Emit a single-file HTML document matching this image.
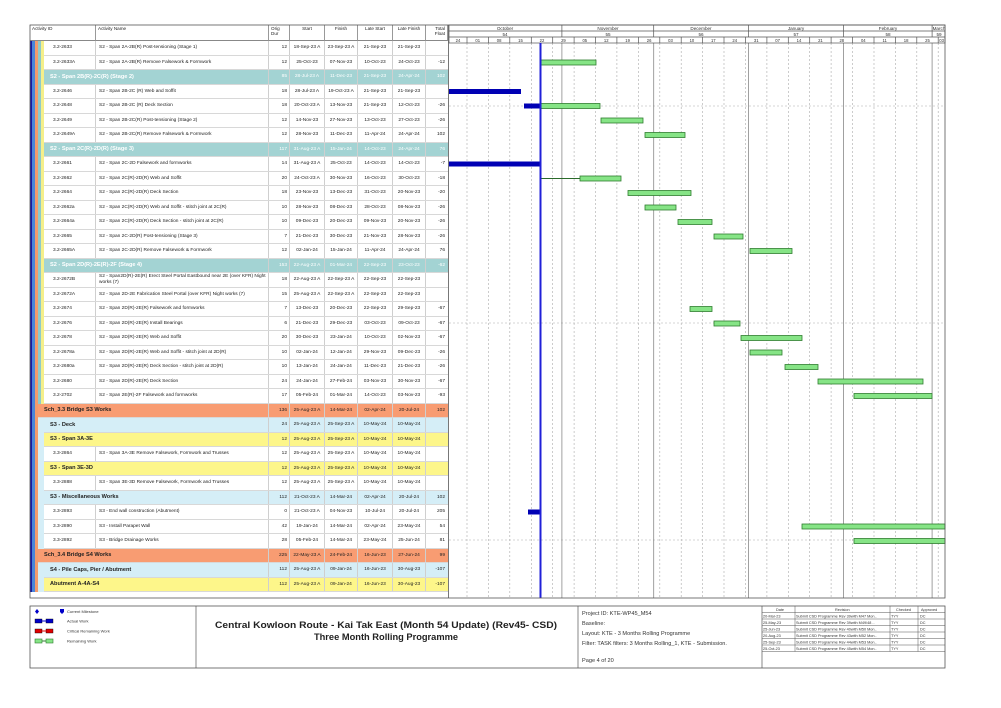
<!DOCTYPE html>
<html><head><meta charset="utf-8">
<style>
*{margin:0;padding:0;box-sizing:border-box}
body{width:1001px;height:708px;background:#fff;position:relative;overflow:hidden;font-family:"Liberation Sans",sans-serif;color:#222}
.r{position:absolute;left:44px;width:404px;height:14.5px;display:flex;align-items:center;border-bottom:1px solid #d8d8d8;font-size:4.8px;background:#fff;white-space:nowrap}
.r>div{height:100%;display:flex;align-items:center;border-right:1px solid #cfcfcf;overflow:hidden}
.a{width:52px;padding-left:9px}.b{width:173px;padding-left:3px}
.d{width:21px;justify-content:flex-end;padding-right:2px}.s{width:35px;justify-content:center}.f{width:33px;justify-content:center}
.t{width:22px;justify-content:flex-end;padding-right:3px;border-right:none!important}
.g .n{width:225px;padding-left:6px;font-weight:bold;font-size:5.6px}
.tl{background:#a3d3d3;color:#fff}.tl .n{color:#fff}
.or{background:#f89c72}.lb{background:#d5eef7}.yl{background:#fdf68a}
.hd{position:absolute;top:25px;height:16px;border-right:1px solid #999;border-bottom:1px solid #888;font-size:4.6px;padding:1px 2px;background:#fff}
.lg{position:absolute;font-size:4.5px}
.pi{position:absolute;left:582px;font-size:6px;color:#333}
</style></head><body>
<!-- stripes -->
<div style="position:absolute;left:30px;top:41px;width:2px;height:551px;background:#1a1aa0"></div>
<div style="position:absolute;left:32px;top:41px;width:3px;height:551px;background:#4a86d8"></div>
<div style="position:absolute;left:35px;top:41px;width:3px;height:551px;background:#f49a6c"></div>
<div style="position:absolute;left:38px;top:41px;width:3px;height:370px;background:#8fcaca"></div>
<div style="position:absolute;left:41px;top:41px;width:3px;height:370px;background:#f5ef8a"></div>
<div style="position:absolute;left:38px;top:411px;width:6px;height:145px;background:#d5eef7"></div>
<div style="position:absolute;left:38px;top:556px;width:6px;height:36px;background:#d5eef7"></div>

<!-- headers -->
<div class="hd" style="left:30px;width:66px">Activity ID</div>
<div class="hd" style="left:96px;width:173px">Activity Name</div>
<div class="hd" style="left:269px;width:21px">Orig Dur</div>
<div class="hd" style="left:290px;width:35px;text-align:center">Start</div>
<div class="hd" style="left:325px;width:33px;text-align:center">Finish</div>
<div class="hd" style="left:358px;width:35px;text-align:center">Late Start</div>
<div class="hd" style="left:393px;width:33px;text-align:center">Late Finish</div>
<div class="hd" style="left:426px;width:22px;text-align:right">Total Float</div>

<div class="r" style="top:41px"><div class="a">3.2-2633</div><div class="b">S2 - Span 2A-2B(R) Post-tensioning (Stage 1)</div><div class="d">12</div><div class="s">18-Sep-23 A</div><div class="f">23-Sep-23 A</div><div class="s">21-Sep-23</div><div class="f">21-Sep-23</div><div class="t"></div></div>
<div class="r" style="top:55.5px"><div class="a">3.2-2633A</div><div class="b">S2 - Span 2A-2B(R) Remove Falsework &amp; Formwork</div><div class="d">12</div><div class="s">25-Oct-23</div><div class="f">07-Nov-23</div><div class="s">10-Oct-23</div><div class="f">24-Oct-23</div><div class="t">-12</div></div>
<div class="r g tl" style="top:70px"><div class="n">S2 - Span 2B(R)-2C(R) (Stage 2)</div><div class="d">85</div><div class="s">28-Jul-23 A</div><div class="f">11-Dec-23</div><div class="s">21-Sep-23</div><div class="f">24-Apr-24</div><div class="t">102</div></div>
<div class="r" style="top:84.5px"><div class="a">3.2-2646</div><div class="b">S2 - Span 2B-2C (R) Web and Soffit</div><div class="d">18</div><div class="s">28-Jul-23 A</div><div class="f">19-Oct-23 A</div><div class="s">21-Sep-23</div><div class="f">21-Sep-23</div><div class="t"></div></div>
<div class="r" style="top:99px"><div class="a">3.2-2648</div><div class="b">S2 - Span 2B-2C (R) Deck Section</div><div class="d">18</div><div class="s">20-Oct-23 A</div><div class="f">13-Nov-23</div><div class="s">21-Sep-23</div><div class="f">12-Oct-23</div><div class="t">-26</div></div>
<div class="r" style="top:113.5px"><div class="a">3.2-2649</div><div class="b">S2 - Span 2B-2C(R) Post-tensioning (Stage 2)</div><div class="d">12</div><div class="s">14-Nov-23</div><div class="f">27-Nov-23</div><div class="s">13-Oct-23</div><div class="f">27-Oct-23</div><div class="t">-26</div></div>
<div class="r" style="top:128px"><div class="a">3.2-2649A</div><div class="b">S2 - Span 2B-2C(R) Remove Falsework &amp; Formwork</div><div class="d">12</div><div class="s">28-Nov-23</div><div class="f">11-Dec-23</div><div class="s">11-Apr-24</div><div class="f">24-Apr-24</div><div class="t">102</div></div>
<div class="r g tl" style="top:142.5px"><div class="n">S2 - Span 2C(R)-2D(R) (Stage 3)</div><div class="d">117</div><div class="s">31-Aug-23 A</div><div class="f">15-Jan-24</div><div class="s">14-Oct-23</div><div class="f">24-Apr-24</div><div class="t">76</div></div>
<div class="r" style="top:157px"><div class="a">3.2-2661</div><div class="b">S2 - Span 2C-2D Falsework and formworks</div><div class="d">14</div><div class="s">31-Aug-23 A</div><div class="f">25-Oct-23</div><div class="s">14-Oct-23</div><div class="f">14-Oct-23</div><div class="t">-7</div></div>
<div class="r" style="top:171.5px"><div class="a">3.2-2662</div><div class="b">S2 - Span 2C(R)-2D(R) Web and Soffit</div><div class="d">20</div><div class="s">24-Oct-23 A</div><div class="f">30-Nov-23</div><div class="s">16-Oct-23</div><div class="f">30-Oct-23</div><div class="t">-18</div></div>
<div class="r" style="top:186px"><div class="a">3.2-2664</div><div class="b">S2 - Span 2C(R)-2D(R) Deck Section</div><div class="d">18</div><div class="s">23-Nov-23</div><div class="f">13-Dec-23</div><div class="s">31-Oct-23</div><div class="f">20-Nov-23</div><div class="t">-20</div></div>
<div class="r" style="top:200.5px"><div class="a">3.2-2662a</div><div class="b">S2 - Span 2C(R)-2D(R) Web and Soffit - stitch joint at 2C(R)</div><div class="d">10</div><div class="s">28-Nov-23</div><div class="f">08-Dec-23</div><div class="s">28-Oct-23</div><div class="f">08-Nov-23</div><div class="t">-26</div></div>
<div class="r" style="top:215px"><div class="a">3.2-2664a</div><div class="b">S2 - Span 2C(R)-2D(R) Deck Section - stitch joint at 2C(R)</div><div class="d">10</div><div class="s">09-Dec-23</div><div class="f">20-Dec-23</div><div class="s">09-Nov-23</div><div class="f">20-Nov-23</div><div class="t">-26</div></div>
<div class="r" style="top:229.5px"><div class="a">3.2-2665</div><div class="b">S2 - Span 2C-2D(R) Post-tensioning (Stage 3)</div><div class="d">7</div><div class="s">21-Dec-23</div><div class="f">30-Dec-23</div><div class="s">21-Nov-23</div><div class="f">28-Nov-23</div><div class="t">-26</div></div>
<div class="r" style="top:244px"><div class="a">3.2-2665A</div><div class="b">S2 - Span 2C-2D(R) Remove Falsework &amp; Formwork</div><div class="d">12</div><div class="s">02-Jan-24</div><div class="f">15-Jan-24</div><div class="s">11-Apr-24</div><div class="f">24-Apr-24</div><div class="t">76</div></div>
<div class="r g tl" style="top:258.5px"><div class="n">S2 - Span 2D(R)-2E(R)-2F (Stage 4)</div><div class="d">153</div><div class="s">22-Aug-23 A</div><div class="f">01-Mar-24</div><div class="s">22-Sep-23</div><div class="f">23-Oct-23</div><div class="t">-62</div></div>
<div class="r" style="top:273px"><div class="a">3.2-2672B</div><div class="b" style="white-space:normal;line-height:5.4px">S2 - Span2D(R)-2E(R) Erect Steel Portal Eastbound near 2E (over KFR) Night works (7)</div><div class="d">18</div><div class="s">22-Aug-23 A</div><div class="f">22-Sep-23 A</div><div class="s">22-Sep-23</div><div class="f">22-Sep-23</div><div class="t"></div></div>
<div class="r" style="top:287.5px"><div class="a">3.2-2672A</div><div class="b">S2 - Span 2D-2E Fabrication Steel Portal (over KFR) Night works (7)</div><div class="d">15</div><div class="s">25-Aug-23 A</div><div class="f">22-Sep-23 A</div><div class="s">22-Sep-23</div><div class="f">22-Sep-23</div><div class="t"></div></div>
<div class="r" style="top:302px"><div class="a">3.2-2674</div><div class="b">S2 - Span 2D(R)-2E(R) Falsework and formworks</div><div class="d">7</div><div class="s">13-Dec-23</div><div class="f">20-Dec-23</div><div class="s">22-Sep-23</div><div class="f">29-Sep-23</div><div class="t">-67</div></div>
<div class="r" style="top:316.5px"><div class="a">3.2-2676</div><div class="b">S2 - Span 2D(R)-2E(R) Install Bearings</div><div class="d">6</div><div class="s">21-Dec-23</div><div class="f">29-Dec-23</div><div class="s">03-Oct-23</div><div class="f">09-Oct-23</div><div class="t">-67</div></div>
<div class="r" style="top:331px"><div class="a">3.2-2678</div><div class="b">S2 - Span 2D(R)-2E(R) Web and Soffit</div><div class="d">20</div><div class="s">30-Dec-23</div><div class="f">23-Jan-24</div><div class="s">10-Oct-23</div><div class="f">02-Nov-23</div><div class="t">-67</div></div>
<div class="r" style="top:345.5px"><div class="a">3.2-2678a</div><div class="b">S2 - Span 2D(R)-2E(R) Web and Soffit - stitch joint at 2D(R)</div><div class="d">10</div><div class="s">02-Jan-24</div><div class="f">12-Jan-24</div><div class="s">29-Nov-23</div><div class="f">09-Dec-23</div><div class="t">-26</div></div>
<div class="r" style="top:360px"><div class="a">3.2-2680a</div><div class="b">S2 - Span 2D(R)-2E(R) Deck Section - stitch joint at 2D(R)</div><div class="d">10</div><div class="s">13-Jan-24</div><div class="f">24-Jan-24</div><div class="s">11-Dec-23</div><div class="f">21-Dec-23</div><div class="t">-26</div></div>
<div class="r" style="top:374.5px"><div class="a">3.2-2680</div><div class="b">S2 - Span 2D(R)-2E(R) Deck Section</div><div class="d">24</div><div class="s">24-Jan-24</div><div class="f">27-Feb-24</div><div class="s">03-Nov-23</div><div class="f">30-Nov-23</div><div class="t">-67</div></div>
<div class="r" style="top:389px"><div class="a">3.2-2702</div><div class="b">S2 - Span 2E(R)-2F Falsework and formworks</div><div class="d">17</div><div class="s">05-Feb-24</div><div class="f">01-Mar-24</div><div class="s">14-Oct-23</div><div class="f">03-Nov-23</div><div class="t">-93</div></div>
<div class="r g or" style="top:403.5px;left:38px;width:410px"><div class="n" style="width:231px">Sch_3.3 Bridge S3 Works</div><div class="d">136</div><div class="s">25-Aug-23 A</div><div class="f">14-Mar-24</div><div class="s">02-Apr-24</div><div class="f">20-Jul-24</div><div class="t">102</div></div>
<div class="r g lb" style="top:418px"><div class="n">S3 - Deck</div><div class="d">24</div><div class="s">25-Aug-23 A</div><div class="f">25-Sep-23 A</div><div class="s">10-May-24</div><div class="f">10-May-24</div><div class="t"></div></div>
<div class="r g yl" style="top:432.5px"><div class="n">S3 - Span 3A-3E</div><div class="d">12</div><div class="s">25-Aug-23 A</div><div class="f">25-Sep-23 A</div><div class="s">10-May-24</div><div class="f">10-May-24</div><div class="t"></div></div>
<div class="r" style="top:447px"><div class="a">3.3-2864</div><div class="b">S3 - Span 3A-3E Remove Falsework, Formwork and Trusses</div><div class="d">12</div><div class="s">25-Aug-23 A</div><div class="f">25-Sep-23 A</div><div class="s">10-May-24</div><div class="f">10-May-24</div><div class="t"></div></div>
<div class="r g yl" style="top:461.5px"><div class="n">S3 - Span 3E-3D</div><div class="d">12</div><div class="s">25-Aug-23 A</div><div class="f">25-Sep-23 A</div><div class="s">10-May-24</div><div class="f">10-May-24</div><div class="t"></div></div>
<div class="r" style="top:476px"><div class="a">3.3-2888</div><div class="b">S3 - Span 3E-3D Remove Falsework, Formwork and Trusses</div><div class="d">12</div><div class="s">25-Aug-23 A</div><div class="f">25-Sep-23 A</div><div class="s">10-May-24</div><div class="f">10-May-24</div><div class="t"></div></div>
<div class="r g lb" style="top:490.5px"><div class="n">S3 - Miscellaneous Works</div><div class="d">112</div><div class="s">21-Oct-23 A</div><div class="f">14-Mar-24</div><div class="s">02-Apr-24</div><div class="f">20-Jul-24</div><div class="t">102</div></div>
<div class="r" style="top:505px"><div class="a">3.3-2893</div><div class="b">S3 - End wall construction (Abutment)</div><div class="d">0</div><div class="s">21-Oct-23 A</div><div class="f">04-Nov-23</div><div class="s">10-Jul-24</div><div class="f">20-Jul-24</div><div class="t">205</div></div>
<div class="r" style="top:519.5px"><div class="a">3.3-2890</div><div class="b">S3 - Install Parapet Wall</div><div class="d">42</div><div class="s">19-Jan-24</div><div class="f">14-Mar-24</div><div class="s">02-Apr-24</div><div class="f">23-May-24</div><div class="t">54</div></div>
<div class="r" style="top:534px"><div class="a">3.3-2892</div><div class="b">S3 - Bridge Drainage Works</div><div class="d">28</div><div class="s">05-Feb-24</div><div class="f">14-Mar-24</div><div class="s">23-May-24</div><div class="f">25-Jun-24</div><div class="t">81</div></div>
<div class="r g or" style="top:548.5px;left:38px;width:410px"><div class="n" style="width:231px">Sch_3.4 Bridge S4 Works</div><div class="d">225</div><div class="s">22-May-23 A</div><div class="f">24-Feb-24</div><div class="s">16-Jun-23</div><div class="f">27-Jun-24</div><div class="t">99</div></div>
<div class="r g lb" style="top:563px"><div class="n">S4 - Pile Caps, Pier / Abutment</div><div class="d">112</div><div class="s">25-Aug-23 A</div><div class="f">09-Jan-24</div><div class="s">16-Jun-23</div><div class="f">30-Aug-23</div><div class="t">-107</div></div>
<div class="r g yl" style="top:577.5px"><div class="n">Abutment A-4A-S4</div><div class="d">112</div><div class="s">25-Aug-23 A</div><div class="f">09-Jan-24</div><div class="s">16-Jun-23</div><div class="f">30-Aug-23</div><div class="t">-107</div></div>

<svg width="1001" height="708" style="position:absolute;left:0;top:0" font-family="Liberation Sans, sans-serif">
<g stroke="#aaa" stroke-dasharray="2,2" stroke-width="0.6">
<line x1="467" y1="43" x2="467" y2="598"/><line x1="488.4" y1="43" x2="488.4" y2="598"/><line x1="509.8" y1="43" x2="509.8" y2="598"/><line x1="531.3" y1="43" x2="531.3" y2="598"/><line x1="552.7" y1="43" x2="552.7" y2="598"/><line x1="574.1" y1="43" x2="574.1" y2="598"/><line x1="595.5" y1="43" x2="595.5" y2="598"/><line x1="616.9" y1="43" x2="616.9" y2="598"/><line x1="638.4" y1="43" x2="638.4" y2="598"/><line x1="659.8" y1="43" x2="659.8" y2="598"/><line x1="681.2" y1="43" x2="681.2" y2="598"/><line x1="702.6" y1="43" x2="702.6" y2="598"/><line x1="724" y1="43" x2="724" y2="598"/><line x1="745.5" y1="43" x2="745.5" y2="598"/><line x1="766.9" y1="43" x2="766.9" y2="598"/><line x1="788.3" y1="43" x2="788.3" y2="598"/><line x1="809.7" y1="43" x2="809.7" y2="598"/><line x1="831.1" y1="43" x2="831.1" y2="598"/><line x1="852.6" y1="43" x2="852.6" y2="598"/><line x1="874" y1="43" x2="874" y2="598"/><line x1="895.4" y1="43" x2="895.4" y2="598"/><line x1="916.8" y1="43" x2="916.8" y2="598"/><line x1="938.2" y1="43" x2="938.2" y2="598"/>
<line x1="449" y1="106" x2="945" y2="106"/><line x1="449" y1="323" x2="945" y2="323"/><line x1="449" y1="540" x2="945" y2="540"/>
</g>
<g stroke="#888" stroke-width="0.8">
<line x1="561.9" y1="43" x2="561.9" y2="598"/><line x1="653.7" y1="43" x2="653.7" y2="598"/><line x1="748.5" y1="43" x2="748.5" y2="598"/><line x1="843.4" y1="43" x2="843.4" y2="598"/><line x1="932.1" y1="43" x2="932.1" y2="598"/>
</g>
<!-- gantt header -->
<g stroke="#555" stroke-width="0.7" fill="none">
<rect x="449" y="25" width="496" height="18"/>
<line x1="449" y1="31" x2="945" y2="31"/><line x1="449" y1="37" x2="945" y2="37"/>
<line x1="561.9" y1="25" x2="561.9" y2="37"/><line x1="653.7" y1="25" x2="653.7" y2="37"/><line x1="748.5" y1="25" x2="748.5" y2="37"/><line x1="843.4" y1="25" x2="843.4" y2="37"/><line x1="932.1" y1="25" x2="932.1" y2="37"/>
<path d="M467 37v6M488.4 37v6M509.8 37v6M531.3 37v6M552.7 37v6M574.1 37v6M595.5 37v6M616.9 37v6M638.4 37v6M659.8 37v6M681.2 37v6M702.6 37v6M724 37v6M745.5 37v6M766.9 37v6M788.3 37v6M809.7 37v6M831.1 37v6M852.6 37v6M874 37v6M895.4 37v6M916.8 37v6M938.2 37v6"/>
</g>
<g font-size="4.6" fill="#333" text-anchor="middle">
<text x="505" y="30">October</text><text x="608" y="30">November</text><text x="701" y="30">December</text><text x="796" y="30">January</text><text x="888" y="30">February</text><text x="939" y="30">March</text>
<text x="505" y="36">54</text><text x="608" y="36">55</text><text x="701" y="36">56</text><text x="796" y="36">57</text><text x="888" y="36">58</text><text x="939" y="36">59</text>
<g font-size="4.2"><text x="458" y="42">24</text><text x="477.7" y="42">01</text><text x="499.1" y="42">08</text><text x="520.5" y="42">15</text><text x="542" y="42">22</text><text x="563.4" y="42">29</text><text x="584.8" y="42">05</text><text x="606.2" y="42">12</text><text x="627.6" y="42">19</text><text x="649.1" y="42">26</text><text x="670.5" y="42">03</text><text x="691.9" y="42">10</text><text x="713.3" y="42">17</text><text x="734.7" y="42">24</text><text x="756.2" y="42">31</text><text x="777.6" y="42">07</text><text x="799" y="42">14</text><text x="820.4" y="42">21</text><text x="841.8" y="42">28</text><text x="863.3" y="42">04</text><text x="884.7" y="42">11</text><text x="906.1" y="42">18</text><text x="927.5" y="42">25</text><text x="941.6" y="42">03</text></g>
</g>
<!-- bars -->
<g fill="#0000b4">
<rect x="449" y="89" width="72" height="5"/><rect x="524" y="103.5" width="16" height="5"/><rect x="449" y="161.5" width="91" height="5"/><rect x="528" y="509.5" width="12" height="5"/>
</g>
<line x1="540" y1="178.5" x2="580" y2="178.5" stroke="#2a6a2a" stroke-width="1"/>
<g fill="#86e486" stroke="#2f7d2f" stroke-width="0.8">
<rect x="541" y="60" width="55" height="5"/><rect x="540" y="103.5" width="60" height="5"/><rect x="601" y="118" width="42" height="5"/><rect x="645" y="132.5" width="40" height="5"/>
<rect x="580" y="176" width="41" height="5"/><rect x="628" y="190.5" width="63" height="5"/><rect x="645" y="205" width="31" height="5"/><rect x="678" y="219.5" width="34" height="5"/><rect x="714" y="234" width="29" height="5"/><rect x="750" y="248.5" width="42" height="5"/>
<rect x="690" y="306.5" width="22" height="5"/><rect x="714" y="321" width="26" height="5"/><rect x="741" y="335.5" width="61" height="5"/><rect x="750" y="350" width="32" height="5"/><rect x="785" y="364.5" width="33" height="5"/><rect x="818" y="379" width="105" height="5"/><rect x="854" y="393.5" width="78" height="5"/>
<rect x="802" y="524" width="143" height="5"/><rect x="854" y="538.5" width="91" height="5"/>
</g>
<line x1="540.5" y1="43" x2="540.5" y2="598" stroke="#2020d8" stroke-width="2"/>
<!-- frames -->
<rect x="30" y="25" width="915" height="573" fill="none" stroke="#555" stroke-width="0.8"/>
<line x1="448.5" y1="25" x2="448.5" y2="598" stroke="#555" stroke-width="0.8"/>
<!-- footer -->
<rect x="30" y="606" width="915" height="62" fill="none" stroke="#555" stroke-width="0.8"/>
<line x1="196" y1="606" x2="196" y2="668" stroke="#555" stroke-width="0.7"/>
<line x1="578" y1="606" x2="578" y2="668" stroke="#555" stroke-width="0.7"/>
<line x1="762" y1="606" x2="762" y2="668" stroke="#555" stroke-width="0.7"/>
<g stroke="#555" stroke-width="0.5">
<line x1="762" y1="612.5" x2="945" y2="612.5"/><line x1="762" y1="619" x2="945" y2="619"/><line x1="762" y1="625.5" x2="945" y2="625.5"/><line x1="762" y1="632" x2="945" y2="632"/><line x1="762" y1="638.5" x2="945" y2="638.5"/><line x1="762" y1="645" x2="945" y2="645"/><line x1="762" y1="651.5" x2="945" y2="651.5"/>
<line x1="795" y1="606" x2="795" y2="651.5"/><line x1="890" y1="606" x2="890" y2="651.5"/><line x1="918" y1="606" x2="918" y2="651.5"/>
</g>
<g font-size="3.8" fill="#333">
<text x="776" y="611">Date</text><text x="835" y="611">Revision</text><text x="896" y="611">Checked</text><text x="921" y="611">Approved</text>
<text x="763" y="617.5">20-Mar-23</text><text x="796" y="617.5">Submit CSD Programme Rev 39with M47 Mon..</text><text x="891" y="617.5">TYY</text><text x="920" y="617.5">DC</text>
<text x="763" y="624">25-May-23</text><text x="796" y="624">Submit CSD Programme Rev 39with M49/48 ..</text><text x="891" y="624">TYY</text><text x="920" y="624">DC</text>
<text x="763" y="630.5">25-Jun-23</text><text x="796" y="630.5">Submit CSD Programme Rev 40with M50 Mon..</text><text x="891" y="630.5">TYY</text><text x="920" y="630.5">DC</text>
<text x="763" y="637">20-Aug-23</text><text x="796" y="637">Submit CSD Programme Rev 43with M52 Mon..</text><text x="891" y="637">TYY</text><text x="920" y="637">DC</text>
<text x="763" y="643.5">25-Sep-23</text><text x="796" y="643.5">Submit CSD Programme Rev 44with M53 Mon..</text><text x="891" y="643.5">TYY</text><text x="920" y="643.5">DC</text>
<text x="763" y="650">25-Oct-23</text><text x="796" y="650">Submit CSD Programme Rev 45with M54 Mon..</text><text x="891" y="650">TYY</text><text x="920" y="650">DC</text>
</g>
<g font-weight="bold" font-size="9.3" text-anchor="middle" fill="#222">
<text x="386" y="628" textLength="342" lengthAdjust="spacingAndGlyphs">Central Kowloon Route - Kai Tak East (Month 54 Update) (Rev45- CSD)</text>
<text x="386" y="640">Three Month Rolling Programme</text>
</g>
<g font-size="5.6" fill="#333">
<text x="582" y="615">Project ID: KTE-WP45_M54</text>
<text x="582" y="625">Baseline:</text>
<text x="582" y="635">Layout: KTE - 3 Months Rolling Programme</text>
<text x="582" y="645">Filter: TASK filters: 3 Months Rolling_1, KTE - Submission.</text>
<text x="582" y="662">Page 4 of 20</text>
</g>
<!-- legend -->
<path d="M37 609l2 2.5-2 2.5-2-2.5z" fill="#0000c8"/>
<path d="M60 609h4v3l-2 2-2-2z" fill="#0000c8"/>
<rect x="35" y="619" width="7" height="4" fill="#0000c8" stroke="#000" stroke-width="0.4"/><rect x="46" y="619" width="7" height="4" fill="#0000c8" stroke="#000" stroke-width="0.4"/><line x1="42" y1="621" x2="46" y2="621" stroke="#0000c8"/>
<rect x="35" y="629" width="7" height="4" fill="#e00000" stroke="#000" stroke-width="0.4"/><rect x="46" y="629" width="7" height="4" fill="#e00000" stroke="#000" stroke-width="0.4"/><line x1="42" y1="631" x2="46" y2="631" stroke="#e00000"/>
<rect x="35" y="639" width="7" height="4" fill="#86e486" stroke="#2f7d2f" stroke-width="0.6"/><rect x="46" y="639" width="7" height="4" fill="#86e486" stroke="#2f7d2f" stroke-width="0.6"/><line x1="42" y1="641" x2="46" y2="641" stroke="#2f7d2f"/>
<g font-size="4" fill="#333"><text x="67" y="613">Current Milestone</text><text x="67" y="622.5">Actual Work</text><text x="67" y="632.5">Critical Remaining Work</text><text x="67" y="642.5">Remaining Work</text></g>
</svg>
</body></html>
